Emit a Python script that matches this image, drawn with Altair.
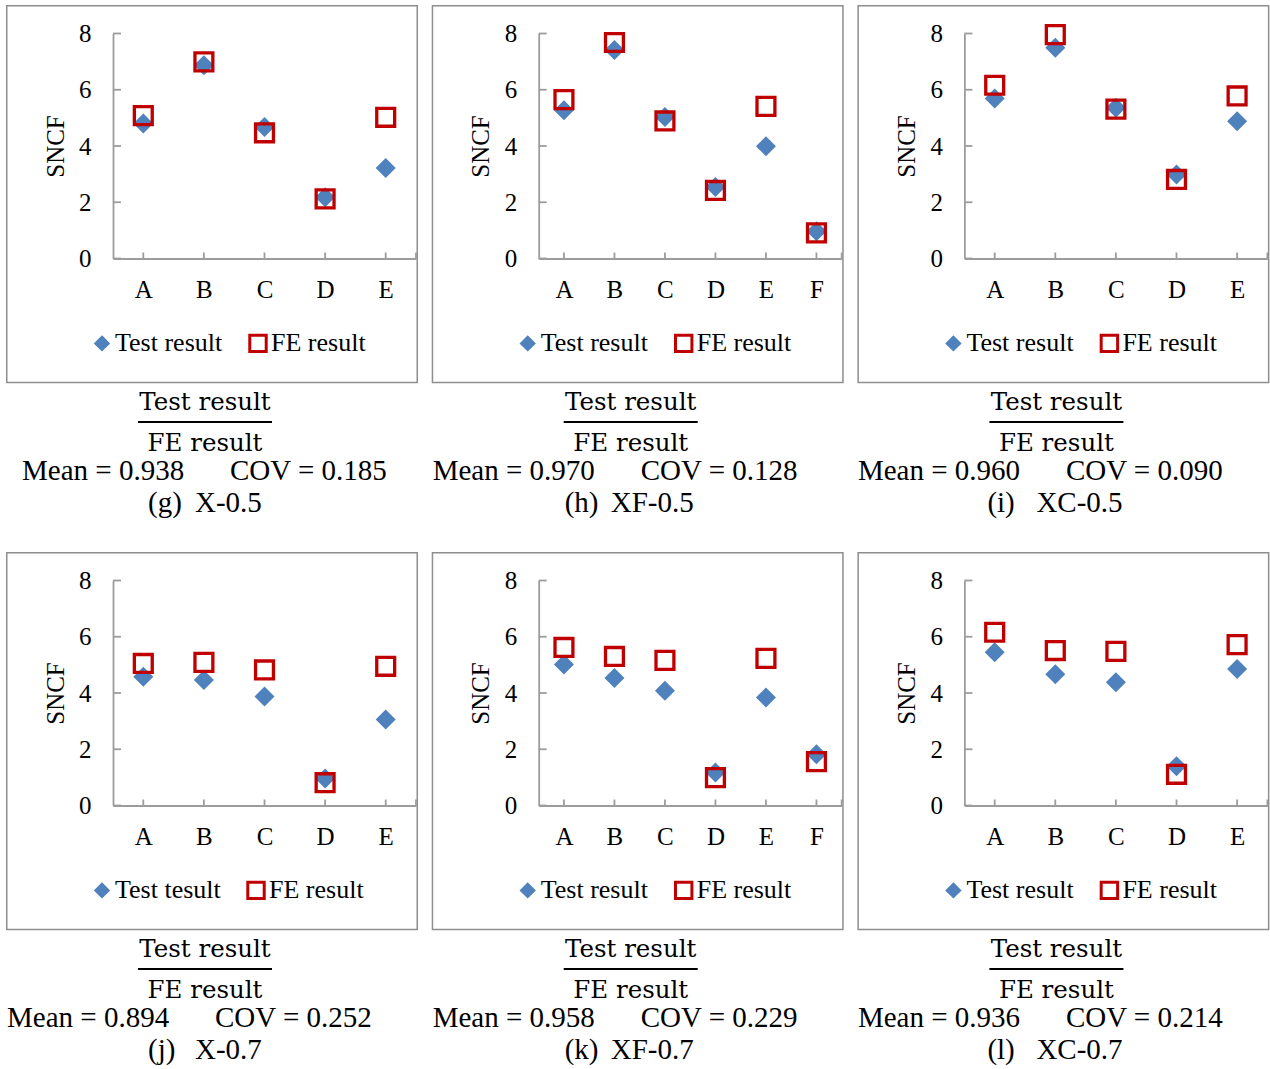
import altair as alt
import pandas as pd

# ---- data -------------------------------------------------------------
cats_5 = ["A", "B", "C", "D", "E"]
cats_6 = ["A", "B", "C", "D", "E", "F"]

test_g = [4.80, 6.87, 4.68, 2.18, 3.22]
fe_g = [5.08, 6.99, 4.47, 2.12, 5.02]
test_h = [5.27, 7.41, 5.03, 2.54, 3.99, 0.97]
fe_h = [5.65, 7.68, 4.89, 2.42, 5.41, 0.91]
test_i = [5.69, 7.49, 5.36, 2.99, 4.88]
fe_i = [6.16, 7.96, 5.31, 2.81, 5.78]
test_j = [4.58, 4.46, 3.88, 0.96, 3.06]
fe_j = [5.05, 5.09, 4.82, 0.81, 4.95]
test_k = [5.01, 4.53, 4.08, 1.17, 3.84, 1.82]
fe_k = [5.62, 5.30, 5.16, 0.99, 5.23, 1.56]
test_l = [5.45, 4.67, 4.38, 1.40, 4.85]
fe_l = [6.16, 5.51, 5.48, 1.11, 5.72]

panel_tags = ["(g)", "(h)", "(i)", "(j)", "(k)", "(l)"]
panel_names = ["X-0.5", "XF-0.5", "XC-0.5", "X-0.7", "XF-0.7", "XC-0.7"]
mean_values = ["0.938", "0.970", "0.960", "0.894", "0.958", "0.936"]
cov_values = ["0.185", "0.128", "0.090", "0.252", "0.229", "0.214"]
test_labels = ["Test result", "Test result", "Test result",
               "Test tesult", "Test result", "Test result"]
fe_label = "FE result"
y_ticks = [0, 2, 4, 6, 8]

# ---- styling ----------------------------------------------------------
GRAY = "#9C9C9C"
FRAME = "#8E8E8E"
BLUE = "#4F81BD"
RED = "#C00000"
SERIF = "Liberation Serif"
FRAC = "DejaVu Serif"

W, H = 412, 515          # one cell: framed chart plus caption below it
FRAME_H = 377.5
X0, X1 = 107, 410         # plot area, left / right
Y0, Y1 = 253.5, 28.5      # plot area, bottom (0) / top (8)

mean_x = [16, 1, 0.5, 1, 1, 0.5]
tag_x = [142, 133, 130, 142, 133, 130]
name_x = [189, 179, 179, 189, 179, 179]

one = pd.DataFrame({"k": [0]})


def text_layer(s, x, y, font, size, align="left"):
    return alt.Chart(one).mark_text(
        text=s, font=font, fontSize=size, align=align,
        baseline="alphabetic", color="black"
    ).encode(x=alt.value(x), y=alt.value(y))


def panel(i, cats, test, fe):
    t_lab = test_labels[i]
    dom = [t_lab, fe_label]
    df = pd.DataFrame({
        "cat": cats + cats,
        "value": test + fe,
        "series": [t_lab] * len(cats) + [fe_label] * len(cats),
    })
    # the marker kind drives the marker size only (no legend of its own)
    df["kind"] = ["test"] * len(cats) + ["fe"] * len(cats)

    xs = alt.Scale(type="point", domain=cats, range=[X0, X1], padding=0.5)
    ys = alt.Scale(domain=[0, 8], range=[Y0, Y1], nice=False, zero=False)

    x_axis = alt.Axis(
        orient="bottom", offset=-(H - Y0), domainColor=GRAY, domainWidth=1.8,
        ticks=False, tickSize=0, grid=False, labelAngle=0,
        labelFont=SERIF, labelFontSize=25, labelColor="black",
        labelPadding=19, title=None,
    )
    y_axis = alt.Axis(
        orient="left", offset=-X0, values=y_ticks, format="d",
        domainColor=GRAY, domainWidth=1.8, ticks=False, tickSize=0,
        grid=False, labelFont=SERIF, labelFontSize=25, labelColor="black",
        labelPadding=22, title="SNCF", titleFont=SERIF, titleFontSize=25,
        titleFontWeight="normal", titleColor="black", titleAngle=270,
        titleX=-58, titleY=141, titleBaseline="middle", titleAlign="center",
    )
    legend = alt.Legend(
        title=None, orient="none", legendX=83, legendY=325,
        direction="horizontal", labelFont=SERIF, labelFontSize=26,
        labelColor="black", labelOffset=0, columnPadding=20,
        symbolSize=270, symbolStrokeWidth=3, padding=0,
        labelBaseline="middle", labelLimit=300,
    )

    points = alt.Chart(df).mark_point(opacity=1, strokeWidth=3.3).encode(
        x=alt.X("cat:N", scale=xs, axis=x_axis, sort=cats),
        y=alt.Y("value:Q", scale=ys, axis=y_axis),
        shape=alt.Shape("series:N", scale=alt.Scale(domain=dom, range=["diamond", "square"]), legend=legend),
        fill=alt.Fill("series:N", scale=alt.Scale(domain=dom, range=[BLUE, "transparent"]), legend=legend),
        stroke=alt.Stroke("series:N", scale=alt.Scale(domain=dom, range=["transparent", RED]), legend=legend),
        size=alt.Size("kind:N", scale=alt.Scale(domain=["test", "fe"], range=[400, 320]), legend=None),
    )

    frame = alt.Chart(one).mark_rect(
        filled=False, stroke=FRAME, strokeWidth=1.5
    ).encode(x=alt.value(0.75), x2=alt.value(W - 0.75),
             y=alt.value(0.75), y2=alt.value(FRAME_H))

    # inward-pointing tick marks, placed through the same scales
    y_tick_marks = alt.Chart(pd.DataFrame({"v": y_ticks})).mark_rule(
        color=GRAY, strokeWidth=1.8
    ).encode(y=alt.Y("v:Q", scale=ys),
             x=alt.value(X0), x2=alt.value(X0 + 8))

    x_tick_marks = alt.Chart(pd.DataFrame({"cat": cats})).mark_rule(
        color=GRAY, strokeWidth=1.8
    ).encode(x=alt.X("cat:N", scale=xs, sort=cats),
             y=alt.value(Y0 - 6), y2=alt.value(Y0))

    end_tick = alt.Chart(one).mark_rule(color=GRAY, strokeWidth=1.8).encode(
        x=alt.value(X1), y=alt.value(Y0 - 6), y2=alt.value(Y0))

    captions = [
        text_layer("Test result", 199, 404.5, FRAC, 24.5, "center"),
        alt.Chart(one).mark_rule(color="black", strokeWidth=2).encode(
            x=alt.value(132), x2=alt.value(266), y=alt.value(417)),
        text_layer("FE result", 199, 446, FRAC, 24.5, "center"),
        text_layer("Mean = " + mean_values[i], mean_x[i], 474.5, SERIF, 29),
        text_layer("COV = " + cov_values[i], mean_x[i] + 208, 474.5, SERIF, 29),
        text_layer(panel_tags[i], tag_x[i], 507, SERIF, 29),
        text_layer(panel_names[i], name_x[i], 507, SERIF, 29),
    ]

    return alt.layer(
        points, frame, y_tick_marks, x_tick_marks, end_tick, *captions
    ).properties(width=W, height=H)


def separate(c):
    # every panel keeps its own marker scales and its own legend
    chans = dict(shape="independent", fill="independent",
                 stroke="independent", size="independent")
    return c.resolve_scale(**chans).resolve_legend(**chans)


cells = [
    panel(0, cats_5, test_g, fe_g),
    panel(1, cats_6, test_h, fe_h),
    panel(2, cats_5, test_i, fe_i),
    panel(3, cats_5, test_j, fe_j),
    panel(4, cats_6, test_k, fe_k),
    panel(5, cats_5, test_l, fe_l),
]

row1 = separate(alt.hconcat(*cells[:3], spacing=13.7))
row2 = separate(alt.hconcat(*cells[3:], spacing=13.7))

chart = separate(alt.vconcat(row1, row2, spacing=32)).properties(
    padding={"left": 6, "top": 5, "right": 0, "bottom": 0}
).configure_view(strokeWidth=0)

chart.save("out.html", embed_options={"renderer": "svg", "actions": False})
